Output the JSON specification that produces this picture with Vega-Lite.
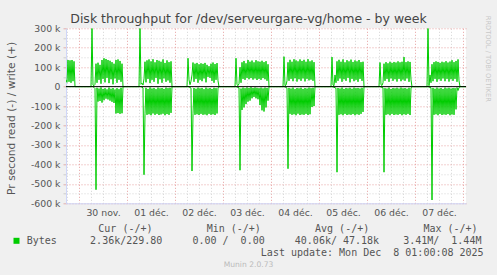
{
 "$schema": "https://vega.github.io/schema/vega-lite/v6.json",
 "width": 400, "height": 175,
 "autosize": "none",
 "padding": {"left": 66, "top": 28.3, "right": 31, "bottom": 71.7},
 "background": "#f0f0f0",
 "config": {"view": {"fill": "#ffffff", "stroke": null}, "font": "DejaVu Sans"},
 "title": {"text": "Disk throughput for /dev/serveurgare-vg/home - by week", "font": "DejaVu Sans", "fontSize": 12.5, "fontWeight": "normal", "color": "#444444", "anchor": "middle", "dx": -17.5, "dy": 24, "offset": 4, "baseline": "alphabetic"},
 "data": {"values": [
  {"t":17.5,"w":35,"r":0},{"t":18,"w":22,"r":0},{"t":18.5,"w":137,"r":0},{"t":19,"w":25,"r":0},{"t":19.5,"w":135,"r":0},{"t":20,"w":20,"r":0},{"t":20.5,"w":137,"r":0},{"t":21,"w":28,"r":0},{"t":21.5,"w":130,"r":0},{"t":22,"w":0,"r":0},
  {"t":30,"w":0,"r":0},{"t":30.5,"w":300,"r":0},{"t":31,"w":8,"r":0},{"t":31.5,"w":5,"r":-4},{"t":32,"w":12,"r":-10},{"t":32.5,"w":118,"r":-530},{"t":33,"w":20,"r":-6},{"t":33.5,"w":123,"r":-77},{"t":34,"w":35,"r":-10},{"t":34.5,"w":112,"r":-74},{"t":35,"w":15,"r":-4},{"t":35.5,"w":137,"r":-82},{"t":36,"w":40,"r":-12},{"t":36.5,"w":146,"r":-70},{"t":37,"w":22,"r":-8},{"t":37.5,"w":142,"r":-62},{"t":38,"w":45,"r":-14},{"t":38.5,"w":137,"r":-66},{"t":39,"w":18,"r":-5},{"t":39.5,"w":133,"r":-72},{"t":40,"w":38,"r":-11},{"t":40.5,"w":126,"r":-78},{"t":41,"w":12,"r":-7},{"t":41.5,"w":118,"r":-84},{"t":42,"w":42,"r":-15},{"t":42.5,"w":137,"r":-138},{"t":43,"w":20,"r":-8},{"t":43.5,"w":140,"r":-136},{"t":44,"w":35,"r":-13},{"t":44.5,"w":132,"r":-140},{"t":45,"w":25,"r":-6},{"t":45.5,"w":118,"r":-137},{"t":46,"w":0,"r":0},
  {"t":54,"w":0,"r":0},{"t":54.5,"w":300,"r":0},{"t":55,"w":12,"r":0},{"t":55.5,"w":18,"r":-3},{"t":56,"w":8,"r":-6},{"t":56.5,"w":40,"r":-453},{"t":57,"w":128,"r":-140},{"t":57.5,"w":22,"r":-6},{"t":58,"w":135,"r":-145},{"t":58.5,"w":40,"r":-12},{"t":59,"w":140,"r":-142},{"t":59.5,"w":18,"r":-4},{"t":60,"w":130,"r":-147},{"t":60.5,"w":35,"r":-10},{"t":61,"w":141,"r":-138},{"t":61.5,"w":25,"r":-7},{"t":62,"w":125,"r":-145},{"t":62.5,"w":45,"r":-13},{"t":63,"w":137,"r":-140},{"t":63.5,"w":15,"r":-5},{"t":64,"w":133,"r":-146},{"t":64.5,"w":38,"r":-9},{"t":65,"w":128,"r":-143},{"t":65.5,"w":20,"r":-7},{"t":66,"w":140,"r":-139},{"t":66.5,"w":42,"r":-12},{"t":67,"w":122,"r":-147},{"t":67.5,"w":25,"r":-5},{"t":68,"w":135,"r":-141},{"t":68.5,"w":32,"r":-8},{"t":69,"w":126,"r":-145},{"t":69.5,"w":20,"r":-6},{"t":70,"w":130,"r":-135},{"t":70.5,"w":0,"r":0},
  {"t":78,"w":0,"r":0},{"t":78.5,"w":146,"r":0},{"t":79,"w":35,"r":-2},{"t":79.5,"w":10,"r":-4},{"t":80,"w":28,"r":-8},{"t":80.5,"w":60,"r":-434},{"t":81,"w":124,"r":-140},{"t":81.5,"w":25,"r":-7},{"t":82,"w":118,"r":-145},{"t":82.5,"w":40,"r":-11},{"t":83,"w":122,"r":-142},{"t":83.5,"w":20,"r":-5},{"t":84,"w":115,"r":-146},{"t":84.5,"w":35,"r":-9},{"t":85,"w":120,"r":-140},{"t":85.5,"w":28,"r":-7},{"t":86,"w":117,"r":-145},{"t":86.5,"w":42,"r":-13},{"t":87,"w":122,"r":-143},{"t":87.5,"w":22,"r":-5},{"t":88,"w":112,"r":-147},{"t":88.5,"w":50,"r":-10},{"t":89,"w":105,"r":-140},{"t":89.5,"w":45,"r":-7},{"t":90,"w":118,"r":-145},{"t":90.5,"w":30,"r":-12},{"t":91,"w":124,"r":-142},{"t":91.5,"w":20,"r":-6},{"t":92,"w":116,"r":-146},{"t":92.5,"w":35,"r":-8},{"t":93,"w":121,"r":-138},{"t":93.5,"w":30,"r":-7},{"t":94,"w":0,"r":0},
  {"t":102,"w":0,"r":0},{"t":102.5,"w":146,"r":0},{"t":103,"w":10,"r":-2},{"t":103.5,"w":5,"r":-4},{"t":104,"w":15,"r":-6},{"t":104.5,"w":100,"r":-430},{"t":105,"w":20,"r":-10},{"t":105.5,"w":125,"r":-120},{"t":106,"w":40,"r":-5},{"t":106.5,"w":132,"r":-107},{"t":107,"w":35,"r":-8},{"t":107.5,"w":120,"r":-90},{"t":108,"w":45,"r":-4},{"t":108.5,"w":137,"r":-77},{"t":109,"w":38,"r":-7},{"t":109.5,"w":128,"r":-72},{"t":110,"w":44,"r":-3},{"t":110.5,"w":134,"r":-60},{"t":111,"w":36,"r":-7},{"t":111.5,"w":125,"r":-53},{"t":112,"w":42,"r":-4},{"t":112.5,"w":136,"r":-60},{"t":113,"w":34,"r":-6},{"t":113.5,"w":130,"r":-65},{"t":114,"w":40,"r":-8},{"t":114.5,"w":128,"r":-95},{"t":115,"w":35,"r":-5},{"t":115.5,"w":133,"r":-122},{"t":116,"w":44,"r":-9},{"t":116.5,"w":126,"r":-128},{"t":117,"w":38,"r":-5},{"t":117.5,"w":131,"r":-107},{"t":118,"w":30,"r":-7},{"t":118.5,"w":115,"r":-72},{"t":119,"w":0,"r":0},
  {"t":126,"w":0,"r":0},{"t":126.5,"w":154,"r":0},{"t":127,"w":5,"r":-2},{"t":127.5,"w":8,"r":-4},{"t":128,"w":30,"r":-8},{"t":128.5,"w":125,"r":-422},{"t":129,"w":30,"r":-7},{"t":129.5,"w":138,"r":-140},{"t":130,"w":40,"r":-10},{"t":130.5,"w":128,"r":-145},{"t":131,"w":28,"r":-5},{"t":131.5,"w":141,"r":-142},{"t":132,"w":43,"r":-13},{"t":132.5,"w":135,"r":-147},{"t":133,"w":26,"r":-7},{"t":133.5,"w":130,"r":-139},{"t":134,"w":38,"r":-9},{"t":134.5,"w":140,"r":-146},{"t":135,"w":30,"r":-6},{"t":135.5,"w":132,"r":-143},{"t":136,"w":42,"r":-12},{"t":136.5,"w":138,"r":-145},{"t":137,"w":27,"r":-7},{"t":137.5,"w":128,"r":-140},{"t":138,"w":40,"r":-10},{"t":138.5,"w":141,"r":-146},{"t":139,"w":32,"r":-5},{"t":139.5,"w":130,"r":-142},{"t":140,"w":36,"r":-8},{"t":140.5,"w":135,"r":-105},{"t":141,"w":30,"r":-6},{"t":141.5,"w":126,"r":-100},{"t":142,"w":0,"r":0},
  {"t":150,"w":0,"r":0},{"t":150.5,"w":152,"r":0},{"t":151,"w":8,"r":-2},{"t":151.5,"w":5,"r":-3},{"t":152,"w":60,"r":-6},{"t":152.5,"w":20,"r":-8},{"t":153,"w":130,"r":-440},{"t":153.5,"w":30,"r":-7},{"t":154,"w":138,"r":-145},{"t":154.5,"w":42,"r":-10},{"t":155,"w":128,"r":-142},{"t":155.5,"w":25,"r":-5},{"t":156,"w":140,"r":-147},{"t":156.5,"w":38,"r":-12},{"t":157,"w":125,"r":-140},{"t":157.5,"w":30,"r":-7},{"t":158,"w":136,"r":-146},{"t":158.5,"w":45,"r":-9},{"t":159,"w":130,"r":-143},{"t":159.5,"w":22,"r":-6},{"t":160,"w":139,"r":-145},{"t":160.5,"w":40,"r":-11},{"t":161,"w":127,"r":-141},{"t":161.5,"w":28,"r":-5},{"t":162,"w":135,"r":-147},{"t":162.5,"w":35,"r":-8},{"t":163,"w":130,"r":-142},{"t":163.5,"w":25,"r":-7},{"t":164,"w":137,"r":-145},{"t":164.5,"w":40,"r":-10},{"t":165,"w":126,"r":-140},{"t":165.5,"w":30,"r":-6},{"t":166,"w":128,"r":-130},{"t":166.5,"w":0,"r":0},
  {"t":174,"w":0,"r":0},{"t":174.5,"w":124,"r":0},{"t":175,"w":10,"r":-2},{"t":175.5,"w":6,"r":-4},{"t":176,"w":20,"r":-6},{"t":176.5,"w":118,"r":-440},{"t":177,"w":30,"r":-8},{"t":177.5,"w":126,"r":-145},{"t":178,"w":40,"r":-10},{"t":178.5,"w":120,"r":-142},{"t":179,"w":25,"r":-5},{"t":179.5,"w":128,"r":-147},{"t":180,"w":42,"r":-12},{"t":180.5,"w":122,"r":-140},{"t":181,"w":30,"r":-7},{"t":181.5,"w":127,"r":-146},{"t":182,"w":38,"r":-9},{"t":182.5,"w":124,"r":-143},{"t":183,"w":26,"r":-6},{"t":183.5,"w":130,"r":-145},{"t":184,"w":40,"r":-10},{"t":184.5,"w":125,"r":-141},{"t":185,"w":28,"r":-5},{"t":185.5,"w":128,"r":-147},{"t":186,"w":36,"r":-9},{"t":186.5,"w":152,"r":-142},{"t":187,"w":30,"r":-7},{"t":187.5,"w":126,"r":-145},{"t":188,"w":42,"r":-11},{"t":188.5,"w":130,"r":-140},{"t":189,"w":25,"r":-6},{"t":189.5,"w":127,"r":-146},{"t":190,"w":35,"r":-7},{"t":190.5,"w":0,"r":0},
  {"t":198,"w":0,"r":0},{"t":198.5,"w":300,"r":0},{"t":199,"w":5,"r":-2},{"t":199.5,"w":60,"r":-4},{"t":200,"w":20,"r":-6},{"t":200.5,"w":115,"r":-583},{"t":201,"w":28,"r":-7},{"t":201.5,"w":126,"r":-145},{"t":202,"w":40,"r":-11},{"t":202.5,"w":130,"r":-142},{"t":203,"w":25,"r":-5},{"t":203.5,"w":127,"r":-147},{"t":204,"w":38,"r":-10},{"t":204.5,"w":122,"r":-140},{"t":205,"w":30,"r":-7},{"t":205.5,"w":128,"r":-146},{"t":206,"w":42,"r":-12},{"t":206.5,"w":125,"r":-143},{"t":207,"w":28,"r":-5},{"t":207.5,"w":131,"r":-145},{"t":208,"w":40,"r":-9},{"t":208.5,"w":124,"r":-141},{"t":209,"w":26,"r":-6},{"t":209.5,"w":129,"r":-147},{"t":210,"w":38,"r":-10},{"t":210.5,"w":136,"r":-143},{"t":211,"w":30,"r":-7},{"t":211.5,"w":126,"r":-145},{"t":212,"w":40,"r":-8},{"t":212.5,"w":132,"r":-117},{"t":213,"w":25,"r":-5},{"t":213.5,"w":140,"r":-20},{"t":214,"w":30,"r":-5},{"t":214.5,"w":0,"r":0},
  {"t":217.5,"w":0,"r":0}
 ]},
 "layer": [
  {
   "mark": {"type": "line", "strokeWidth": 1, "clip": true},
   "encoding": {
    "x": {"field": "t", "type": "quantitative", "scale": {"domain": [17.5, 217.5], "nice": false, "zero": false},
     "axis": {"orient": "bottom", "values": [18,30,36,42,54,60,66,78,84,90,102,108,114,126,132,138,150,156,162,174,180,186,198,204,210], "grid": true, "gridColor": "#d4d4d4", "gridDash": [1,2], "labels": false, "ticks": false, "domain": false,
      "title": "Cur (-/+)\u00a0\u00a0\u00a0\u00a0\u00a0\u00a0\u00a0\u00a0\u00a0Min (-/+)\u00a0\u00a0\u00a0\u00a0\u00a0\u00a0\u00a0\u00a0\u00a0Avg (-/+)\u00a0\u00a0\u00a0\u00a0\u00a0\u00a0\u00a0\u00a0\u00a0Max (-/+)",
      "titleX": 31.8, "titleY": 27.7, "titleAlign": "left", "titleBaseline": "alphabetic", "titleFont": "DejaVu Sans Mono", "titleFontSize": 10, "titleFontWeight": "normal", "titleColor": "#555555"}},
    "y": {"field": "w", "type": "quantitative", "scale": {"domain": [-600, 300], "nice": false, "zero": false},
     "axis": {"orient": "left", "values": [-550,-450,-350,-250,-150,-50,50,150,250], "grid": true, "gridColor": "#d4d4d4", "gridDash": [1,2], "labels": false, "ticks": true, "tickSize": 3, "tickColor": "#cccccc", "domain": false,
      "title": "Pr second read (-) / write (+)", "titleX": -55, "titleY": 89.5, "titleAngle": -90, "titleAlign": "center", "titleBaseline": "middle", "titleFont": "DejaVu Sans", "titleFontSize": 10.7, "titleFontWeight": "normal", "titleColor": "#555555"}},
    "color": {"datum": "Bytes", "scale": {"range": ["#00cc00"]},
     "legend": {"orient": "none", "legendX": -54.5, "legendY": 207.5, "title": null, "symbolType": "square", "symbolSize": 36, "symbolFillColor": "#00cc00", "symbolStrokeColor": "#00cc00", "symbolStrokeWidth": 0, "labelFont": "DejaVu Sans Mono", "labelFontSize": 10, "labelColor": "#555555", "labelOffset": 5.2, "padding": 0}}
   }
  },
  {
   "mark": {"type": "line", "strokeWidth": 1, "clip": true},
   "encoding": {
    "x": {"field": "t", "type": "quantitative", "scale": {"domain": [17.5, 217.5], "nice": false, "zero": false},
     "axis": {"orient": "bottom", "values": [24,48,72,96,120,144,168,192,216], "grid": true, "gridColor": "#e6a0a0", "gridDash": [1,2], "labels": false, "ticks": false, "domain": true, "domainColor": "#cfd6f8",
      "title": "2.36k/229.80\u00a0\u00a0\u00a0\u00a0\u00a00.00 /\u00a0\u00a00.00\u00a0\u00a0\u00a0\u00a0\u00a040.06k/ 47.18k\u00a0\u00a0\u00a0\u00a03.41M/\u00a0\u00a01.44M",
      "titleX": 23.6, "titleY": 39.7, "titleAlign": "left", "titleBaseline": "alphabetic", "titleFont": "DejaVu Sans Mono", "titleFontSize": 10, "titleFontWeight": "normal", "titleColor": "#555555"}},
    "y": {"field": "r", "type": "quantitative", "scale": {"domain": [-600, 300], "nice": false, "zero": false},
     "axis": {"orient": "left", "values": [-600,-500,-400,-300,-200,-100,0,100,200,300], "grid": true, "gridColor": "#e6a0a0", "gridDash": [1,2], "labels": true, "labelExpr": "datum.value == 0 ? '0' : datum.value + ' k'", "labelFont": "DejaVu Sans", "labelFontSize": 9.33, "labelColor": "#555555", "labelPadding": 3, "ticks": true, "tickSize": 3, "tickColor": "#e0b0b0", "domain": true, "domainColor": "#cfd6f8",
      "title": "Munin 2.0.73", "titleX": 182, "titleY": 238, "titleAngle": 0, "titleAlign": "center", "titleBaseline": "alphabetic", "titleFont": "DejaVu Sans", "titleFontSize": 7.6, "titleFontWeight": "normal", "titleColor": "#bbbbbb"}},
    "color": {"datum": "Bytes"}
   }
  },
  {
   "data": {"values": [{}]},
   "mark": {"type": "rule", "color": "#000000", "strokeWidth": 1},
   "encoding": {
    "x": {"datum": 17.5, "type": "quantitative", "scale": {"domain": [17.5, 217.5], "nice": false, "zero": false},
     "axis": {"orient": "bottom", "values": [36,60,84,108,132,156,180,204], "grid": false, "ticks": false, "domain": false, "labelExpr": "['30 nov.','01 déc.','02 déc.','03 déc.','04 déc.','05 déc.','06 déc.','07 déc.'][(datum.value-36)/24]", "labelFont": "DejaVu Sans", "labelFontSize": 9.33, "labelColor": "#555555", "labelPadding": 11.7, "labelBaseline": "alphabetic",
      "title": "Last update: Mon Dec\u00a0\u00a08 01:00:08 2025", "titleX": 417.1, "titleY": 51.7, "titleAlign": "right", "titleBaseline": "alphabetic", "titleFont": "DejaVu Sans Mono", "titleFontSize": 10, "titleFontWeight": "normal", "titleColor": "#555555"}},
    "x2": {"datum": 217.5},
    "y": {"datum": 0, "type": "quantitative", "scale": {"domain": [-600, 300], "nice": false, "zero": false},
     "axis": {"orient": "right", "labels": false, "ticks": false, "grid": false, "domain": false,
      "title": "RRDTOOL / TOBI OETIKER", "titleX": 21, "titleY": 30, "titleAngle": 90, "titleAlign": "center", "titleBaseline": "middle", "titleFont": "DejaVu Sans", "titleFontSize": 6.7, "titleFontWeight": "normal", "titleColor": "#c8c8c8"}}
   }
  }
 ],
 "resolve": {"axis": {"x": "independent", "y": "independent"}}
}
